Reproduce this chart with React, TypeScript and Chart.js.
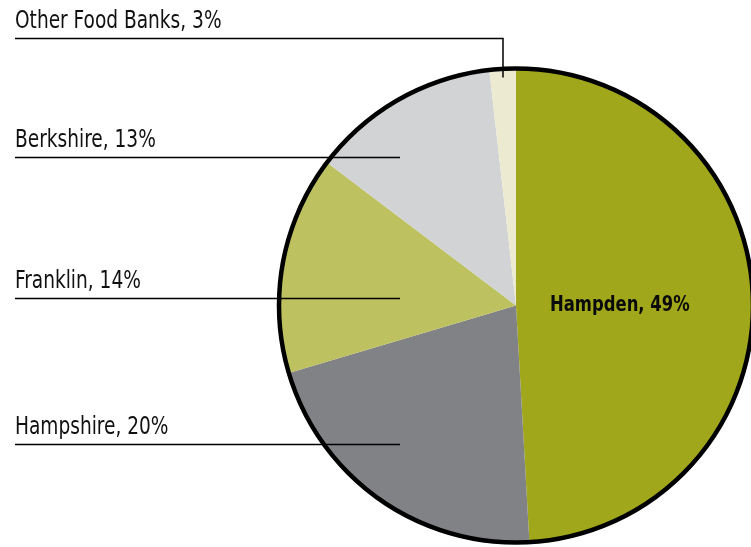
import React, { useEffect, useRef } from "react";
import { Chart, registerables } from "chart.js";

Chart.register(...registerables);

const categories = ["Hampden", "Hampshire", "Franklin", "Berkshire", "Other Food Banks"];
const shares = [49.1, 21.3, 14.9, 12.9, 1.8];
const labelTexts = ["Hampden, 49%", "Hampshire, 20%", "Franklin, 14%", "Berkshire, 13%", "Other Food Banks, 3%"];
const colors = ["#a1a71b", "#808285", "#bec15f", "#d1d3d4", "#ecebd1"];

const FONT = '"Liberation Sans Narrow", "Arial Narrow", "DejaVu Sans Condensed", sans-serif';

function narrowText(ctx: CanvasRenderingContext2D, text: string, x: number, y: number, sx: number) {
  ctx.save();
  ctx.translate(x, y);
  ctx.scale(sx, 1);
  ctx.fillText(text, 0, 0);
  ctx.restore();
}

const overlayPlugin = {
  id: "overlay",
  afterDatasetsDraw(chart: any) {
    const meta = chart.getDatasetMeta(0);
    const arc = meta.data[0];
    if (!arc) return;
    const { x: cx, y: cy, outerRadius: r } = arc.getProps(["x", "y", "outerRadius"], true);
    const ctx = chart.ctx as CanvasRenderingContext2D;
    ctx.save();
    // outline
    ctx.beginPath();
    ctx.arc(cx, cy, r, 0, Math.PI * 2);
    ctx.lineWidth = 4.5;
    ctx.strokeStyle = "#000";
    ctx.stroke();

    // left labels with leader lines
    const textX = 15;
    const lineEndX = cx - 116;
    ctx.font = `24px ${FONT}`;
    ctx.fillStyle = "#111";
    ctx.textBaseline = "alphabetic";
    ctx.textAlign = "left";
    ctx.lineWidth = 1.5;
    ctx.strokeStyle = "#000";
    const sx = 0.86;
    const rows: [number, number][] = [
      [3, cy - 148],
      [2, cy - 7],
      [1, cy + 139],
    ];
    rows.forEach(([i, ly]) => {
      narrowText(ctx, labelTexts[i], textX, ly - 11, sx);
      ctx.beginPath();
      ctx.moveTo(textX, ly);
      ctx.lineTo(lineEndX, ly);
      ctx.stroke();
    });
    // Other food banks
    const oy = cy - 267;
    const ox = cx - 13;
    narrowText(ctx, labelTexts[4], textX, oy - 11, sx);
    ctx.beginPath();
    ctx.moveTo(textX, oy);
    ctx.lineTo(ox, oy);
    ctx.lineTo(ox, cy - 228);
    ctx.stroke();

    // Hampden inside label
    ctx.font = `bold 21px ${FONT}`;
    ctx.fillStyle = "#0a0a0a";
    narrowText(ctx, labelTexts[0], cx + 34, cy + 5, 0.87);
    ctx.restore();
  },
};

export default function App() {
  const ref = useRef<HTMLCanvasElement>(null);
  useEffect(() => {
    document.body.style.margin = "0";
    const canvas = ref.current!;
    const chart = new Chart(canvas, {
      type: "pie",
      data: {
        labels: categories,
        datasets: [
          {
            data: shares,
            backgroundColor: colors,
            borderWidth: 0,
          },
        ],
      },
      options: {
        animation: false,
        responsive: false,
        maintainAspectRatio: false,
        layout: { padding: { left: 279, right: 47, top: 68.5, bottom: 17.5 } },
        plugins: {
          legend: { display: false },
          tooltip: { enabled: false },
        },
      },
      plugins: [overlayPlugin],
    });
    return () => chart.destroy();
  }, []);
  return (
    <div style={{ position: "absolute", left: 0, top: 0, width: 751, height: 547, overflow: "hidden", background: "#fff" }}>
      <canvas ref={ref} width={800} height={560} style={{ width: 800, height: 560, display: "block" }} />
    </div>
  );
}
